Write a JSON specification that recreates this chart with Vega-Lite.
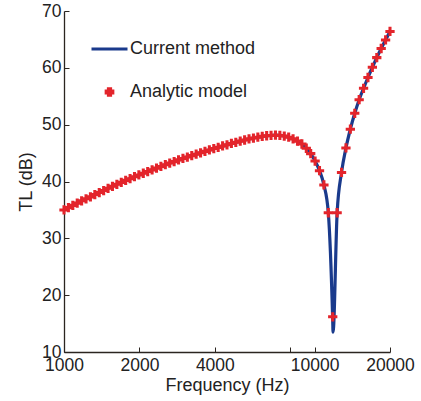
{
  "$schema": "https://vega.github.io/schema/vega-lite/v6.json",
  "width": 326,
  "height": 341,
  "autosize": "none",
  "padding": {"left": 64, "top": 11, "right": 31, "bottom": 49},
  "background": "white",
  "config": {
    "view": {"stroke": null},
    "font": "Liberation Sans",
    "axis": {
      "grid": false,
      "domainColor": "#2b2520",
      "domainWidth": 1.3,
      "tickColor": "#2b2520",
      "tickSize": -5,
      "tickWidth": 1,
      "labelFontSize": 17.5,
      "labelColor": "#222222",
      "titleFontSize": 18,
      "titleFontWeight": "normal",
      "titleColor": "#222222"
    }
  },
  "datasets": {
    "analytic": [
      {"f": 1000, "tl": 35.0}, {"f": 1041.3, "tl": 35.4}, {"f": 1084.3, "tl": 35.8}, {"f": 1129.1, "tl": 36.2},
      {"f": 1175.8, "tl": 36.6}, {"f": 1224.3, "tl": 36.95}, {"f": 1274.9, "tl": 37.3}, {"f": 1327.6, "tl": 37.7},
      {"f": 1382.4, "tl": 38.05}, {"f": 1439.5, "tl": 38.4}, {"f": 1499.0, "tl": 38.8}, {"f": 1560.9, "tl": 39.15},
      {"f": 1625.4, "tl": 39.5}, {"f": 1692.5, "tl": 39.85}, {"f": 1762.5, "tl": 40.2}, {"f": 1835.3, "tl": 40.5},
      {"f": 1911.1, "tl": 40.85}, {"f": 1990.0, "tl": 41.15}, {"f": 2072.3, "tl": 41.45}, {"f": 2157.9, "tl": 41.75},
      {"f": 2247.0, "tl": 42.05}, {"f": 2339.9, "tl": 42.35}, {"f": 2436.5, "tl": 42.65}, {"f": 2537.2, "tl": 42.95},
      {"f": 2642.0, "tl": 43.25}, {"f": 2751.2, "tl": 43.5}, {"f": 2864.8, "tl": 43.8}, {"f": 2983.2, "tl": 44.05},
      {"f": 3106.4, "tl": 44.3}, {"f": 3234.8, "tl": 44.55}, {"f": 3368.4, "tl": 44.8}, {"f": 3507.6, "tl": 45.05},
      {"f": 3652.5, "tl": 45.3}, {"f": 3803.4, "tl": 45.55}, {"f": 3960.5, "tl": 45.8}, {"f": 4124.1, "tl": 46.0},
      {"f": 4294.5, "tl": 46.25}, {"f": 4471.9, "tl": 46.45}, {"f": 4656.7, "tl": 46.7}, {"f": 4849.1, "tl": 46.9},
      {"f": 5049.4, "tl": 47.1}, {"f": 5258.0, "tl": 47.3}, {"f": 5475.3, "tl": 47.5}, {"f": 5701.5, "tl": 47.65},
      {"f": 5937.0, "tl": 47.8}, {"f": 6182.3, "tl": 47.95}, {"f": 6437.7, "tl": 48.05}, {"f": 6703.7, "tl": 48.1},
      {"f": 6980.6, "tl": 48.15}, {"f": 7269.0, "tl": 48.1}, {"f": 7569.3, "tl": 48.0}, {"f": 7882.0, "tl": 47.8},
      {"f": 8207.6, "tl": 47.5}, {"f": 8546.7, "tl": 47.1}, {"f": 8899.8, "tl": 46.6}, {"f": 9267.5, "tl": 45.85},
      {"f": 9650.4, "tl": 44.9}, {"f": 10049.3, "tl": 43.6}, {"f": 10464.2, "tl": 41.9}, {"f": 10896.5, "tl": 39.4},
      {"f": 11346.7, "tl": 34.5}, {"f": 11815.5, "tl": 16.2}, {"f": 12303.6, "tl": 34.5}, {"f": 12811.9, "tl": 41.6},
      {"f": 13341.2, "tl": 45.9}, {"f": 13892.4, "tl": 49.2}, {"f": 14466.3, "tl": 52.0}, {"f": 15063.9, "tl": 54.4},
      {"f": 15686.3, "tl": 56.4}, {"f": 16334.3, "tl": 58.3}, {"f": 17009.2, "tl": 60.1}, {"f": 17711.9, "tl": 61.8},
      {"f": 18443.6, "tl": 63.4}, {"f": 19205.6, "tl": 64.9}, {"f": 20000, "tl": 66.4}
    ],
    "current": [
      {"f": 1000, "tl": 35.0}, {"f": 1274.9, "tl": 37.3}, {"f": 1625.4, "tl": 39.5}, {"f": 1990.0, "tl": 41.15},
      {"f": 2436.5, "tl": 42.65}, {"f": 2983.2, "tl": 44.05}, {"f": 3652.5, "tl": 45.3}, {"f": 4471.9, "tl": 46.45},
      {"f": 5049.4, "tl": 47.1}, {"f": 5701.5, "tl": 47.65}, {"f": 6182.3, "tl": 47.95}, {"f": 6703.7, "tl": 48.1},
      {"f": 6980.6, "tl": 48.15}, {"f": 7269.0, "tl": 48.1}, {"f": 7569.3, "tl": 48.0}, {"f": 7882.0, "tl": 47.8},
      {"f": 8207.6, "tl": 47.5}, {"f": 8546.7, "tl": 47.1}, {"f": 8899.8, "tl": 46.6}, {"f": 9267.5, "tl": 45.85},
      {"f": 9650.4, "tl": 44.9}, {"f": 10049.3, "tl": 43.6}, {"f": 10464.2, "tl": 41.9}, {"f": 10896.5, "tl": 39.4},
      {"f": 11346.7, "tl": 34.5}, {"f": 11815.5, "tl": 15.5}, {"f": 11850, "tl": 13.5}, {"f": 12303.6, "tl": 34.5},
      {"f": 12811.9, "tl": 41.6}, {"f": 13341.2, "tl": 45.9}, {"f": 13892.4, "tl": 49.2}, {"f": 14466.3, "tl": 52.0},
      {"f": 15063.9, "tl": 54.4}, {"f": 15686.3, "tl": 56.4}, {"f": 16334.3, "tl": 58.3}, {"f": 17009.2, "tl": 60.1},
      {"f": 17711.9, "tl": 61.8}, {"f": 18443.6, "tl": 63.4}, {"f": 19205.6, "tl": 64.9}, {"f": 20000, "tl": 66.4}
    ]
  },
  "encoding": {
    "x": {
      "field": "f",
      "type": "quantitative",
      "scale": {"type": "log", "domain": [1000, 20000], "nice": false},
      "axis": {
        "title": "Frequency (Hz)",
        "values": [1000, 2000, 4000, 8000, 10000, 20000],
        "labelExpr": "datum.value == 8000 ? '' : datum.label",
        "format": "d",
        "labelPadding": 9,
        "titlePadding": 3,
        "labelFlush": false,
        "labelOverlap": false
      }
    },
    "y": {
      "field": "tl",
      "type": "quantitative",
      "scale": {"domain": [10, 70], "nice": false, "zero": false},
      "axis": {
        "title": "TL (dB)",
        "values": [10, 20, 30, 40, 50, 60, 70],
        "labelPadding": 8,
        "titlePadding": 6,
        "labelFlush": false,
        "labelOverlap": false
      }
    },
    "color": {
      "scale": {"domain": ["Current method", "Analytic model"], "range": ["#1a3a8c", "#e3242b"]},
      "legend": {
        "title": null,
        "orient": "none",
        "legendX": 36.5,
        "legendY": 29,
        "padding": 0,
        "symbolSize": 1296,
        "symbolStrokeWidth": 3,
        "labelFontSize": 18,
        "labelColor": "#222222",
        "labelOffset": 11.5,
        "rowPadding": 24,
        "encode": {
          "symbols": {
            "update": {
              "shape": {"signal": "datum.label === 'Current method' ? 'stroke' : 'M-1,-0.33H-0.33V-1H0.33V-0.33H1V0.33H0.33V1H-0.33V0.33H-1Z'"},
              "size": {"signal": "datum.label === 'Current method' ? 1296 : 45"},
              "fill": {"signal": "datum.label === 'Current method' ? 'transparent' : '#e3242b'"},
              "stroke": {"signal": "datum.label === 'Current method' ? '#1a3a8c' : 'transparent'"},
              "strokeWidth": {"value": 3},
              "opacity": {"value": 1},
              "fillOpacity": {"value": 1},
              "strokeOpacity": {"value": 1}
            }
          }
        }
      }
    }
  },
  "layer": [
    {
      "data": {"name": "current"},
      "mark": {"type": "line", "strokeWidth": 3.2, "interpolate": "monotone"},
      "encoding": {"color": {"datum": "Current method"}}
    },
    {
      "data": {"name": "analytic"},
      "mark": {
        "type": "point",
        "filled": true,
        "opacity": 1,
        "size": 86,
        "shape": "M-1,-0.33H-0.33V-1H0.33V-0.33H1V0.33H0.33V1H-0.33V0.33H-1Z"
      },
      "encoding": {"color": {"datum": "Analytic model"}}
    }
  ]
}
